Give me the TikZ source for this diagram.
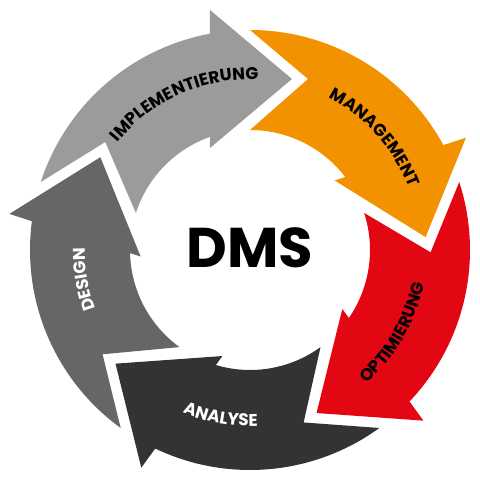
\documentclass[tikz,border=0pt]{standalone}
\usepackage{fontspec}
\usetikzlibrary{decorations.text}
\newfontfamily\popfont{Poppins}
\definecolor{implgray}{RGB}{155,155,155}
\definecolor{mgmtorange}{RGB}{243,146,0}
\definecolor{optred}{RGB}{227,6,19}
\definecolor{anadark}{RGB}{51,51,51}
\definecolor{desgray}{RGB}{102,102,102}
\newcommand{\lbl}{\popfont\bfseries\fontsize{17}{17}\selectfont}
\tikzset{
  steplabel/.style={decorate, decoration={text along path, text align=center, text color=#1}},
  steplabel/.default=black
}
\begin{document}
\begin{tikzpicture}[x=1pt, y=1pt]
	\useasboundingbox (-250,-230) rectangle (230,250);

	\foreach \rot/\col in {0/implgray, -72/mgmtorange, -144/optred, -216/anadark, -288/desgray}
		\fill[\col, rotate=\rot] (162:220) arc[start angle=162, end angle=100.48, radius=220pt] -- (-40,240) -- (42,171) -- (-40,102) -- (109.47:120) arc[start angle=109.47, end angle=162, radius=120pt] -- (143.27:180.6) -- cycle;

	\path[steplabel, decoration={text={|\lbl|IMPLEMENTIERUNG}}] (174:170.5) arc[start angle=174, end angle=54, radius=170.5pt];
	\path[steplabel, decoration={text={|\lbl|MANAGEMENT}}] (102:171) arc[start angle=102, end angle=-18, radius=171pt];
	\path[steplabel, decoration={text={|\lbl|OPTIMIERUNG}}] (-90:177) arc[start angle=-90, end angle=30, radius=177pt];
	\path[steplabel=white, decoration={text={|\lbl|ANALYSE}}] (-160:176) arc[start angle=-160, end angle=-40, radius=176pt];
	\path[steplabel=white, decoration={text={|\lbl|DESIGN}}] (250:165) arc[start angle=250, end angle=130, radius=165pt];

	\node[font=\popfont\bfseries\fontsize{56}{56}\selectfont] (dms) at (0,2.5) {DMS};
\end{tikzpicture}
\end{document}
